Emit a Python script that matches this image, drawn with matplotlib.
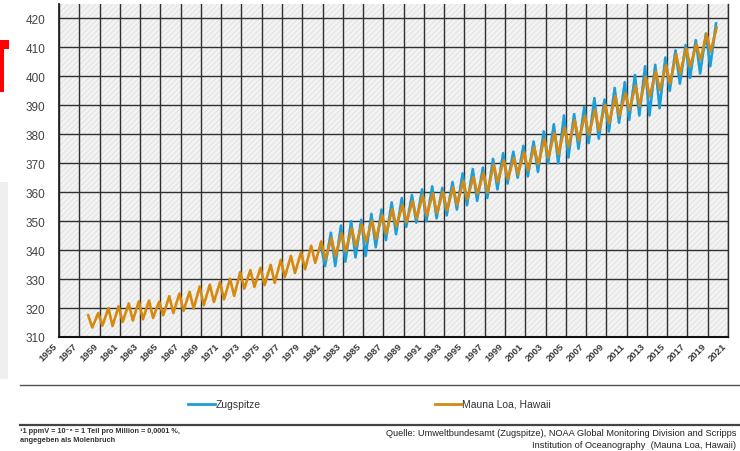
import numpy as np
import matplotlib
matplotlib.use("Agg")
import matplotlib.pyplot as plt
from matplotlib.patches import Rectangle

plt.rcParams['font.family'] = ['Liberation Sans', 'DejaVu Sans']
plt.rcParams['hatch.linewidth'] = 0.5

# Mauna Loa: yearly maximum (spring) and minimum (autumn) in ppmV
ml_peak_years = list(range(1958, 2021))
ml_peak = [317.5, 318.3, 320.0, 320.6, 321.6, 322.3, 322.6, 322.2, 324.1, 325.0,
           325.6, 327.4, 328.1, 328.9, 330.1, 332.4, 333.1, 333.9, 334.9, 336.6,
           338.0, 339.3, 341.5, 343.0, 344.2, 345.9, 347.5, 348.9, 350.2, 352.1,
           354.2, 355.6, 357.0, 359.0, 359.6, 360.2, 361.7, 363.9, 365.3, 366.7,
           369.5, 371.0, 371.8, 373.8, 375.6, 378.4, 380.5, 382.3, 384.9, 386.4,
           388.5, 390.2, 393.2, 394.2, 396.8, 399.8, 401.8, 403.9, 407.7, 409.7,
           411.2, 414.7, 416.8]
ml_trough_years = list(range(1958, 2020))
ml_trough = [313.3, 313.9, 313.8, 315.2, 315.7, 316.1, 316.6, 317.5, 318.3, 319.0,
             319.8, 321.0, 322.1, 323.0, 324.2, 326.7, 327.3, 327.9, 328.7, 330.7,
             332.1, 333.4, 335.6, 336.8, 337.8, 339.5, 341.3, 342.9, 343.9, 345.6,
             348.2, 349.7, 350.9, 352.0, 352.8, 353.8, 355.6, 357.6, 359.5, 360.0,
             363.5, 364.6, 366.2, 367.6, 369.6, 372.0, 373.1, 375.8, 377.8, 379.9,
             381.3, 383.9, 386.4, 388.4, 389.8, 393.0, 395.3, 397.5, 401.0, 403.4,
             405.6, 408.5]

# Zugspitze
zug_peak_years = list(range(1981, 2021))
zug_peak = [342.0, 346.0, 348.5, 350.0, 350.5, 352.5, 354.0, 356.5, 358.0, 359.0,
            361.0, 362.0, 361.5, 363.5, 366.5, 368.0, 368.5, 371.5, 373.5, 374.0,
            376.0, 377.5, 381.0, 383.5, 386.5, 387.0, 389.5, 392.5, 392.0, 396.0,
            398.0, 400.5, 403.5, 404.0, 406.5, 409.0, 410.8, 412.5, 414.8, 418.3]
zug_trough_years = list(range(1981, 2020))
zug_trough = [334.5, 334.5, 336.0, 337.5, 338.0, 341.0, 343.5, 345.5, 348.0, 349.5,
              350.0, 351.0, 352.0, 354.0, 355.5, 357.0, 358.0, 361.0, 363.0, 365.0,
              365.5, 367.0, 370.0, 370.0, 372.0, 375.0, 377.0, 378.5, 381.0, 384.0,
              385.0, 386.5, 386.5, 389.0, 395.0, 397.5, 399.5, 401.0, 403.5]

# where in the (drawn) year the extremes sit
ML_PEAK_AT, ML_TROUGH_AT = -0.12, 0.28
ZUG_PEAK_AT, ZUG_TROUGH_AT = -0.18, 0.25

year_ticks = list(range(1955, 2022, 2))
y_ticks = list(range(310, 421, 10))

BLUE = '#1c9ed9'
ORANGE = '#d6890f'


def zigzag(peak_years, peaks, trough_years, troughs, p_at, t_at):
    xs, ys = [], []
    for i, yr in enumerate(peak_years):
        xs.append(yr + p_at)
        ys.append(peaks[i])
        if i < len(trough_years):
            xs.append(trough_years[i] + t_at)
            ys.append(troughs[i])
    return np.array(xs), np.array(ys)


fig = plt.figure(figsize=(7.4, 4.52), dpi=100)
W, H = 740, 452

# slide decoration on the left
fig.patches.append(Rectangle((0, 1 - 380 / H), 8 / W, 197 / H, transform=fig.transFigure,
                             facecolor='#efefef', edgecolor='none'))
fig.patches.append(Rectangle((0, 1 - 50 / H), 8.5 / W, 9 / H, transform=fig.transFigure,
                             facecolor='#ff0000', edgecolor='none'))
fig.patches.append(Rectangle((0, 1 - 93 / H), 4 / W, 44 / H, transform=fig.transFigure,
                             facecolor='#ff0000', edgecolor='none'))

ax = fig.add_axes([59 / W, 1 - 338 / H, 669 / W, 333 / H])
ax.set_facecolor('#f3f3f3')
ax.add_patch(Rectangle((0, 0), 1, 1, transform=ax.transAxes, facecolor='none',
                       edgecolor='#dadada', hatch='//////', linewidth=0, zorder=0))

ax.set_xlim(1955, 2021)
ax.set_ylim(310, 425)
ax.set_xticks(year_ticks)
ax.set_xticklabels([str(y) for y in year_ticks], rotation=45, ha='right', va='top',
                   fontsize=6.8, fontweight='bold', color='#3a3a3a')
ax.set_yticks(y_ticks)
ax.set_yticklabels([str(v) for v in y_ticks], fontsize=8.5, color='#444444')
ax.tick_params(axis='y', length=0, pad=10)
ax.tick_params(axis='x', length=0, pad=3)
ax.grid(True, color='#303030', linewidth=1.0)
ax.set_axisbelow(True)
ax.spines['top'].set_visible(False)
ax.spines['right'].set_color('#303030')
ax.spines['left'].set_color('#222222')
ax.spines['bottom'].set_color('#111111')
ax.spines['left'].set_linewidth(1.3)
ax.spines['bottom'].set_linewidth(1.5)
ax.spines['right'].set_linewidth(1.0)

zx, zy = zigzag(zug_peak_years, zug_peak, zug_trough_years, zug_trough, ZUG_PEAK_AT, ZUG_TROUGH_AT)
mx, my = zigzag(ml_peak_years, ml_peak, ml_trough_years, ml_trough, ML_PEAK_AT, ML_TROUGH_AT)
ax.plot(zx, zy, color=BLUE, linewidth=1.9, solid_joinstyle='round', zorder=3)
ax.plot(mx, my, color=ORANGE, linewidth=1.9, solid_joinstyle='round', zorder=4)

# separators
fig.add_artist(plt.Line2D([20 / W, 1], [1 - 386 / H] * 2, color='#555555', linewidth=1.0))
fig.add_artist(plt.Line2D([20 / W, 1], [1 - 425.5 / H] * 2, color='#444444', linewidth=1.6))

# legend
fig.add_artist(plt.Line2D([188 / W, 215 / W], [1 - 405 / H] * 2, color=BLUE, linewidth=2.0))
fig.text(216 / W, 1 - 405 / H, 'Zugspitze', fontsize=7.5, color='#333333', va='center')
fig.add_artist(plt.Line2D([435 / W, 461 / W], [1 - 405 / H] * 2, color=ORANGE, linewidth=2.0))
fig.text(462 / W, 1 - 405 / H, 'Mauna Loa, Hawaii', fontsize=7.5, color='#333333', va='center')

# footnote and source
fig.text(20 / W, 1 - 432 / H, '\u00b91 ppmV = 10\u207b\u2076 = 1 Teil pro Million = 0,0001 %,',
         fontsize=5.3, fontweight='bold', color='#333333', va='center')
fig.text(20 / W, 1 - 441 / H, 'angegeben als Molenbruch',
         fontsize=5.3, fontweight='bold', color='#333333', va='center')
fig.text(736 / W, 1 - 434 / H,
         'Quelle: Umweltbundesamt (Zugspitze), NOAA Global Monitoring Division and Scripps',
         fontsize=6.7, color='#222222', ha='right', va='center')
fig.text(736 / W, 1 - 446 / H, 'Institution of Oceanography  (Mauna Loa, Hawaii)',
         fontsize=6.7, color='#222222', ha='right', va='center')

fig.savefig('out.png', dpi=100)
